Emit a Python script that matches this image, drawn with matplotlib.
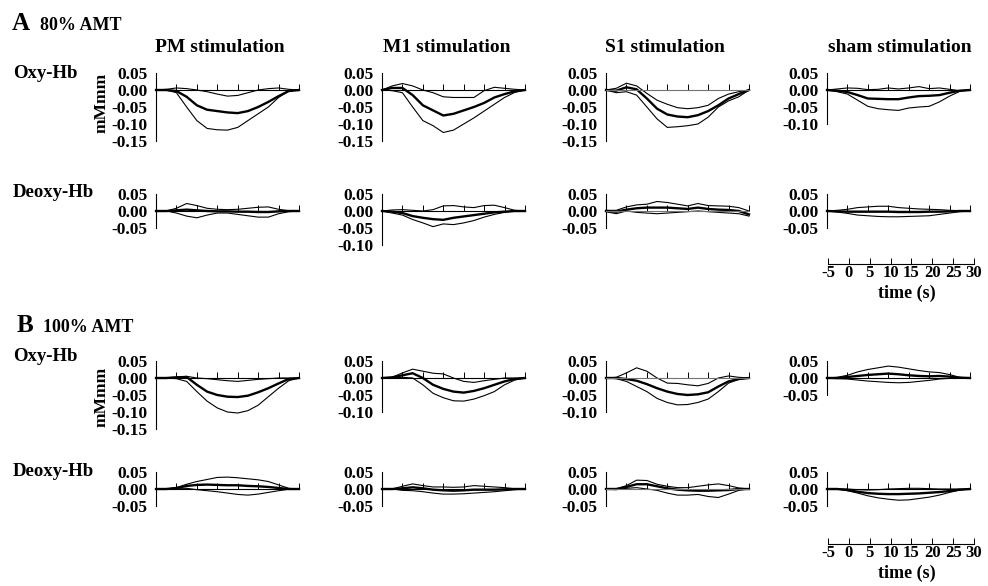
import numpy as np
import matplotlib.pyplot as plt

plt.rcParams['font.family'] = ['Liberation Serif', 'DejaVu Serif']
plt.rcParams['font.weight'] = 'bold'
plt.rcParams['axes.unicode_minus'] = False

# time base (s)
time = [-5, -2.5, 0, 2.5, 5, 7.5, 10, 12.5, 15, 17.5, 20, 22.5, 25, 27.5, 30]
time_ticks = [-5, 0, 5, 10, 15, 20, 25, 30]
columns = ["PM stimulation", "M1 stimulation", "S1 stimulation", "sham stimulation"]

# ---- A 80% AMT, Oxy-Hb (mean, upper, lower) ----
a_pm_oxy_mean = [0, 0, -0.003, -0.02, -0.045, -0.058, -0.062, -0.066, -0.068, -0.062, -0.05, -0.035, -0.018, -0.003, 0]
a_pm_oxy_hi = [0, 0.002, 0.006, 0.004, 0, -0.005, -0.012, -0.018, -0.016, -0.008, 0, 0.004, 0.006, 0.002, 0]
a_pm_oxy_lo = [0, 0, -0.008, -0.05, -0.09, -0.113, -0.117, -0.118, -0.11, -0.09, -0.07, -0.05, -0.022, -0.003, 0]

a_m1_oxy_mean = [0, 0.006, 0.006, -0.015, -0.045, -0.06, -0.075, -0.07, -0.06, -0.05, -0.038, -0.022, -0.012, -0.004, 0]
a_m1_oxy_hi = [0, 0.012, 0.019, 0.012, 0, -0.008, -0.02, -0.022, -0.022, -0.022, -0.002, 0.008, 0.005, 0.002, 0]
a_m1_oxy_lo = [0, -0.002, -0.008, -0.05, -0.09, -0.105, -0.125, -0.118, -0.1, -0.082, -0.062, -0.042, -0.022, -0.007, 0]

a_s1_oxy_mean = [0, -0.002, 0.008, 0.002, -0.025, -0.055, -0.072, -0.078, -0.08, -0.074, -0.062, -0.045, -0.025, -0.012, 0]
a_s1_oxy_hi = [0, 0.005, 0.02, 0.012, -0.01, -0.03, -0.042, -0.052, -0.055, -0.052, -0.045, -0.025, -0.012, -0.005, 0]
a_s1_oxy_lo = [0, -0.008, -0.005, -0.015, -0.05, -0.085, -0.11, -0.108, -0.105, -0.1, -0.08, -0.05, -0.032, -0.02, 0]

a_sh_oxy_mean = [0, -0.002, -0.006, -0.015, -0.025, -0.026, -0.027, -0.027, -0.022, -0.018, -0.017, -0.015, -0.008, -0.002, 0]
a_sh_oxy_hi = [0, 0.003, 0.006, 0.005, 0.001, 0.002, 0.006, 0.003, 0.006, 0.01, 0.004, 0.006, 0.002, -0.002, 0]
a_sh_oxy_lo = [0, -0.005, -0.012, -0.03, -0.048, -0.055, -0.058, -0.06, -0.053, -0.05, -0.048, -0.035, -0.018, -0.004, 0]

# ---- A 80% AMT, Deoxy-Hb ----
a_pm_deo_mean = [0, 0, 0.002, 0.004, 0.002, 0, -0.001, -0.001, -0.002, -0.002, -0.003, -0.003, -0.001, 0, 0]
a_pm_deo_hi = [0, 0, 0.008, 0.022, 0.016, 0.008, 0.005, 0.004, 0.005, 0.008, 0.011, 0.012, 0.005, 0.001, 0]
a_pm_deo_lo = [0, 0, -0.006, -0.015, -0.02, -0.012, -0.006, -0.006, -0.01, -0.014, -0.018, -0.018, -0.008, -0.002, 0]

a_m1_deo_mean = [0, -0.002, -0.006, -0.015, -0.02, -0.024, -0.026, -0.02, -0.016, -0.012, -0.008, -0.004, -0.002, 0, 0]
a_m1_deo_hi = [0, 0.003, 0.004, 0.002, 0, 0.004, 0.015, 0.016, 0.012, 0.01, 0.016, 0.017, 0.01, 0.002, 0]
a_m1_deo_lo = [0, -0.006, -0.012, -0.025, -0.035, -0.046, -0.038, -0.04, -0.035, -0.028, -0.018, -0.01, -0.004, 0, 0]

a_s1_deo_mean = [0, -0.002, 0.004, 0.008, 0.01, 0.01, 0.01, 0.008, 0.006, 0.01, 0.006, 0.004, 0.003, 0, -0.01]
a_s1_deo_hi = [0.002, 0.002, 0.012, 0.018, 0.02, 0.028, 0.025, 0.02, 0.015, 0.022, 0.016, 0.015, 0.014, 0.01, 0]
a_s1_deo_lo = [-0.002, -0.008, 0, -0.004, -0.006, -0.008, -0.006, -0.004, -0.002, 0, -0.002, -0.004, -0.006, -0.008, -0.015]

a_sh_deo_mean = [0, -0.001, -0.002, -0.002, -0.002, -0.002, -0.002, -0.003, -0.003, -0.003, -0.002, -0.002, -0.001, 0, 0]
a_sh_deo_hi = [0, 0.002, 0.005, 0.01, 0.012, 0.014, 0.014, 0.01, 0.008, 0.006, 0.005, 0.004, 0.002, 0.001, 0]
a_sh_deo_lo = [0, -0.003, -0.007, -0.012, -0.014, -0.016, -0.017, -0.017, -0.016, -0.015, -0.014, -0.01, -0.006, -0.002, 0]

# ---- B 100% AMT, Oxy-Hb ----
b_pm_oxy_mean = [0, 0, 0.002, 0.003, -0.02, -0.04, -0.05, -0.055, -0.056, -0.052, -0.042, -0.03, -0.016, -0.003, 0]
b_pm_oxy_hi = [0, 0.001, 0.002, 0.005, 0, -0.002, -0.005, -0.008, -0.01, -0.007, -0.004, -0.002, 0, 0, 0]
b_pm_oxy_lo = [0, 0, -0.002, -0.01, -0.04, -0.068, -0.088, -0.1, -0.103, -0.096, -0.08, -0.055, -0.03, -0.008, 0]

b_m1_oxy_mean = [0, 0.002, 0.008, 0.014, 0, -0.02, -0.032, -0.04, -0.043, -0.038, -0.03, -0.02, -0.01, -0.003, 0]
b_m1_oxy_hi = [0, 0.002, 0.015, 0.026, 0.02, 0.014, 0.012, 0, -0.01, -0.013, -0.008, -0.004, 0, 0, 0]
b_m1_oxy_lo = [0, 0, 0.002, 0, -0.02, -0.045, -0.058, -0.067, -0.068, -0.062, -0.052, -0.04, -0.02, -0.006, 0]

b_s1_oxy_mean = [0, 0, -0.003, -0.008, -0.018, -0.03, -0.04, -0.047, -0.05, -0.048, -0.042, -0.025, -0.01, -0.003, 0]
b_s1_oxy_hi = [0, 0.002, 0.015, 0.03, 0.02, 0, -0.015, -0.016, -0.02, -0.023, -0.016, 0, 0.006, 0.002, 0]
b_s1_oxy_lo = [0, -0.002, -0.01, -0.025, -0.04, -0.06, -0.072, -0.079, -0.078, -0.072, -0.062, -0.04, -0.015, -0.004, 0]

b_sh_oxy_mean = [0, 0, 0.003, 0.006, 0.009, 0.011, 0.013, 0.011, 0.008, 0.006, 0.005, 0.006, 0.004, 0.001, 0]
b_sh_oxy_hi = [0, 0.002, 0.008, 0.018, 0.025, 0.03, 0.035, 0.032, 0.027, 0.022, 0.018, 0.016, 0.01, 0.002, 0]
b_sh_oxy_lo = [0, -0.002, -0.003, -0.006, -0.009, -0.011, -0.013, -0.014, -0.013, -0.01, -0.007, -0.003, -0.001, 0, 0]

# ---- B 100% AMT, Deoxy-Hb ----
b_pm_deo_mean = [0, 0, 0.003, 0.009, 0.012, 0.013, 0.012, 0.011, 0.011, 0.009, 0.008, 0.006, 0.003, 0, 0]
b_pm_deo_hi = [0, 0, 0.004, 0.014, 0.022, 0.028, 0.034, 0.035, 0.033, 0.03, 0.027, 0.022, 0.012, 0.002, 0]
b_pm_deo_lo = [0, 0, 0.002, 0.002, -0.002, -0.005, -0.008, -0.012, -0.016, -0.018, -0.015, -0.01, -0.005, -0.001, 0]

b_m1_deo_mean = [0, 0, 0.002, 0.005, 0.002, -0.002, -0.004, -0.005, -0.004, -0.002, -0.002, -0.002, -0.001, 0, 0]
b_m1_deo_hi = [0, 0, 0.008, 0.015, 0.01, 0.006, 0.006, 0.005, 0.006, 0.01, 0.008, 0.006, 0.004, 0.001, 0]
b_m1_deo_lo = [0, 0, -0.004, -0.005, -0.008, -0.012, -0.015, -0.015, -0.014, -0.012, -0.01, -0.008, -0.005, -0.002, 0]

b_s1_deo_mean = [0, 0, 0.006, 0.014, 0.014, 0.008, 0.002, -0.002, -0.004, -0.005, -0.005, -0.004, -0.003, 0, 0]
b_s1_deo_hi = [0, 0, 0.01, 0.026, 0.025, 0.014, 0.008, 0.004, 0.004, 0.008, 0.012, 0.015, 0.01, 0.003, 0]
b_s1_deo_lo = [0, -0.002, 0.002, 0.004, 0, -0.004, -0.012, -0.018, -0.018, -0.016, -0.022, -0.025, -0.015, -0.004, 0]

b_sh_deo_mean = [0, 0, -0.003, -0.008, -0.012, -0.014, -0.015, -0.015, -0.014, -0.013, -0.011, -0.009, -0.006, -0.002, 0]
b_sh_deo_hi = [0, 0, 0, -0.002, -0.003, -0.002, 0, 0.001, 0.002, 0.002, 0.001, 0, 0, 0, 0]
b_sh_deo_lo = [0, 0, -0.005, -0.012, -0.02, -0.026, -0.03, -0.033, -0.032, -0.028, -0.024, -0.018, -0.01, -0.003, 0]

# y-axis lower limits per row / column
a_oxy_ymin = [-0.15, -0.15, -0.15, -0.10]
a_deo_ymin = [-0.05, -0.10, -0.05, -0.05]
b_oxy_ymin = [-0.15, -0.10, -0.10, -0.05]
b_deo_ymin = [-0.05, -0.05, -0.05, -0.05]

rows = [
    (a_oxy_ymin, [(a_pm_oxy_mean, a_pm_oxy_hi, a_pm_oxy_lo), (a_m1_oxy_mean, a_m1_oxy_hi, a_m1_oxy_lo),
                  (a_s1_oxy_mean, a_s1_oxy_hi, a_s1_oxy_lo), (a_sh_oxy_mean, a_sh_oxy_hi, a_sh_oxy_lo)]),
    (a_deo_ymin, [(a_pm_deo_mean, a_pm_deo_hi, a_pm_deo_lo), (a_m1_deo_mean, a_m1_deo_hi, a_m1_deo_lo),
                  (a_s1_deo_mean, a_s1_deo_hi, a_s1_deo_lo), (a_sh_deo_mean, a_sh_deo_hi, a_sh_deo_lo)]),
    (b_oxy_ymin, [(b_pm_oxy_mean, b_pm_oxy_hi, b_pm_oxy_lo), (b_m1_oxy_mean, b_m1_oxy_hi, b_m1_oxy_lo),
                  (b_s1_oxy_mean, b_s1_oxy_hi, b_s1_oxy_lo), (b_sh_oxy_mean, b_sh_oxy_hi, b_sh_oxy_lo)]),
    (b_deo_ymin, [(b_pm_deo_mean, b_pm_deo_hi, b_pm_deo_lo), (b_m1_deo_mean, b_m1_deo_hi, b_m1_deo_lo),
                  (b_s1_deo_mean, b_s1_deo_hi, b_s1_deo_lo), (b_sh_deo_mean, b_sh_deo_hi, b_sh_deo_lo)]),
]

# layout in pixels
W, H = 988, 586
col_x0 = [156, 382, 606, 827]
panel_w = 143
row_zero = [90, 211, 378, 489]
px_per_unit = 340

fig = plt.figure(figsize=(W / 100, H / 100), dpi=100)


def fx(px):
    return px / W


def fy(py):
    return 1 - py / H


for r, (ymins, panels) in enumerate(rows):
    for c, (mean, hi, lo) in enumerate(panels):
        ymin = ymins[c]
        top = row_zero[r] - 0.05 * px_per_unit
        bot = row_zero[r] - ymin * px_per_unit
        ax = fig.add_axes([fx(col_x0[c]), fy(bot), fx(panel_w), (bot - top) / H])
        ax.plot(time, hi, color='black', lw=0.8, clip_on=False)
        ax.plot(time, lo, color='black', lw=0.8, clip_on=False)
        ax.plot(time, mean, color='black', lw=1.7, clip_on=False)
        ax.set_xlim(-5, 30)
        ax.set_ylim(ymin, 0.05)
        for s in ['top', 'right']:
            ax.spines[s].set_visible(False)
        ax.spines['bottom'].set_position(('data', 0))
        ax.spines['left'].set_linewidth(0.8)
        ax.spines['bottom'].set_linewidth(0.8)
        if c == 2:
            ax.spines['bottom'].set_color('0.45')
        ax.set_xticks(time_ticks)
        ax.tick_params(axis='x', direction='in', length=4, width=0.7, labelbottom=False)
        yt = np.round(np.arange(0.05, ymin - 0.001, -0.05), 2)
        ax.set_yticks(yt)
        ax.set_yticklabels(['%.2f' % v if v != 0 else '0.00' for v in yt])
        ax.tick_params(axis='y', which='major', length=0, pad=6, labelsize=12.5)
        ax.set_yticks([0.05, ymin], minor=True)
        ax.tick_params(axis='y', which='minor', direction='in', length=4, width=0.8)
        ax.patch.set_alpha(0)

# time axes under sham column
for ypx in [264, 544]:
    tax = fig.add_axes([fx(col_x0[3] + 1), fy(ypx), fx(panel_w + 3), 0.001])
    tax.set_xlim(-5, 30)
    tax.set_yticks([])
    for s in ['top', 'right', 'left']:
        tax.spines[s].set_visible(False)
    tax.spines['bottom'].set_linewidth(0.8)
    tax.set_xticks(time_ticks)
    tax.set_xticklabels([str(t) for t in time_ticks])
    tax.tick_params(axis='x', direction='in', length=4, width=0.7, labelsize=12, pad=1)
    tax.patch.set_alpha(0)
    fig.text(fx(907), fy(ypx + 29), "time (s)", fontsize=13, fontweight='bold',
             ha='center', va='center')

# panel headings
fig.text(fx(12), fy(30), "A", fontsize=18, fontweight='bold', ha='left', va='baseline')
fig.text(fx(40), fy(30), "80% AMT", fontsize=13, fontweight='bold', ha='left', va='baseline')
fig.text(fx(17), fy(332), "B", fontsize=18, fontweight='bold', ha='left', va='baseline')
fig.text(fx(43), fy(332), "100% AMT", fontsize=13, fontweight='bold', ha='left', va='baseline')

title_x = [220, 447, 665, 900]
for c, t in enumerate(columns):
    fig.text(fx(title_x[c]), fy(52), t, fontsize=14, fontweight='bold', ha='center', va='baseline')

row_label_y = [78, 197, 361, 476]
row_names = ["Oxy-Hb", "Deoxy-Hb", "Oxy-Hb", "Deoxy-Hb"]
for yb, name in zip(row_label_y, row_names):
    fig.text(fx(13), fy(yb), name, fontsize=13.5, fontweight='bold', ha='left', va='baseline')

for yc in [103, 397]:
    fig.text(fx(102), fy(yc), "mMmm", fontsize=12.5, fontweight='bold', rotation=90,
             ha='center', va='center')

fig.savefig("out.png", dpi=100)
